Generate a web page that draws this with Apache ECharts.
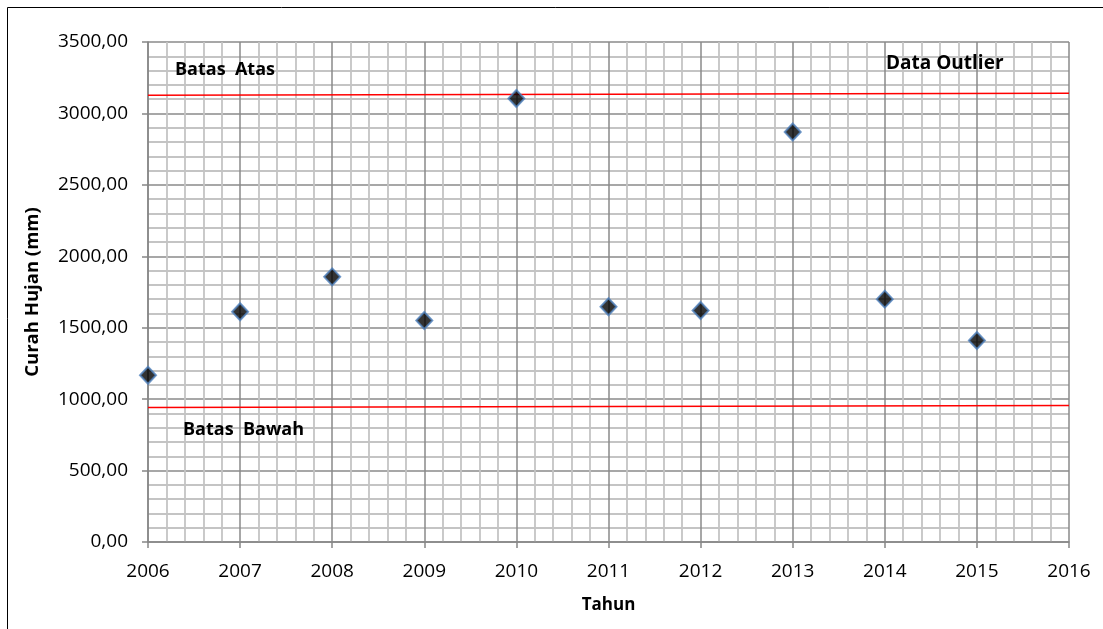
<!DOCTYPE html>
<html>
<head>
<meta charset="utf-8">
<script src="https://cdn.jsdelivr.net/npm/echarts@6/dist/echarts.min.js"></script>
<style>
  html, body { margin: 0; padding: 0; background: #fff; }
  #chart { width: 1103px; height: 629px; }
</style>
</head>
<body>
<div id="chart"></div>
<script>
// Annual rainfall per year with upper / lower outlier limits
const years = [2006, 2007, 2008, 2009, 2010, 2011, 2012, 2013, 2014, 2015];
const rainfall = [1167, 1612, 1856, 1551, 3105, 1647, 1621, 2870, 1700, 1410];
const limitYears = [2006, 2016];
const upperLimit = [3128, 3142];
const lowerLimit = [941, 955];

const FONT = '"Open Sans", "Liberation Sans", sans-serif';

const chart = echarts.init(document.getElementById('chart'), null, { renderer: 'canvas' });

const pairs = (xs, ys) => xs.map((x, i) => [x, ys[i]]);

const option = {
  backgroundColor: '#ffffff',
  animation: false,
  grid: { left: 148, top: 42, right: 34, bottom: 87, containLabel: false },
  xAxis: {
    type: 'value',
    min: 2006, max: 2016, interval: 1,
    name: 'Tahun',
    nameLocation: 'middle',
    nameGap: 55,
    nameTextStyle: { fontFamily: FONT, fontSize: 17, fontWeight: 'bold', color: '#000' },
    axisLine: { show: true, lineStyle: { color: '#868686', width: 1.5 } },
    axisTick: { show: true, length: 6, lineStyle: { color: '#868686', width: 1.5 } },
    axisLabel: { fontFamily: FONT, fontSize: 19, color: '#000', margin: 20, formatter: v => String(v) },
    splitLine: { show: true, lineStyle: { color: '#8a8a8a', width: 1.5 } },
    minorTick: { show: false, splitNumber: 5 },
    minorSplitLine: { show: true, lineStyle: { color: '#c4c4c4', width: 1.8 } }
  },
  yAxis: {
    type: 'value',
    min: 0, max: 3500, interval: 500,
    name: 'Curah Hujan (mm)',
    nameLocation: 'middle',
    nameGap: 106,
    nameRotate: 90,
    nameTextStyle: { fontFamily: FONT, fontSize: 18.5, fontWeight: 'bold', color: '#000' },
    axisLine: { show: true, lineStyle: { color: '#868686', width: 1.5 } },
    axisTick: { show: true, length: 6, lineStyle: { color: '#868686', width: 1.5 } },
    axisLabel: {
      fontFamily: FONT, fontSize: 19, color: '#000', margin: 20,
      formatter: v => v.toFixed(2).replace('.', ',')
    },
    splitLine: { show: true, lineStyle: { color: '#8a8a8a', width: 1.5 } },
    minorTick: { show: false, splitNumber: 5 },
    minorSplitLine: { show: true, lineStyle: { color: '#c4c4c4', width: 1.8 } }
  },
  series: [
    {
      name: 'Batas Atas',
      type: 'line',
      data: pairs(limitYears, upperLimit),
      symbol: 'none',
      lineStyle: { color: '#ff0000', width: 1.5 },
      z: 3
    },
    {
      name: 'Batas Bawah',
      type: 'line',
      data: pairs(limitYears, lowerLimit),
      symbol: 'none',
      lineStyle: { color: '#ff0000', width: 1.5 },
      z: 3
    },
    {
      name: 'Curah Hujan',
      type: 'scatter',
      data: pairs(years, rainfall),
      symbol: 'diamond',
      symbolSize: [16, 17],
      itemStyle: { color: '#000000', borderColor: '#4f81bd', borderWidth: 2 },
      z: 5
    }
  ],
  graphic: [
    {
      type: 'rect',
      shape: { x: 7.5, y: 7.5, width: 1200, height: 700 },
      style: { fill: 'none', stroke: '#000', lineWidth: 1 },
      silent: true, z: 100
    },
    {
      type: 'text', left: 175, top: 61, z: 100,
      style: { text: 'Batas  Atas', font: 'bold 18px ' + FONT, fill: '#000' }
    },
    {
      type: 'text', left: 183, top: 421, z: 100,
      style: { text: 'Batas  Bawah', font: 'bold 18px ' + FONT, fill: '#000' }
    },
    {
      type: 'text', left: 886, top: 54, z: 100,
      style: { text: 'Data Outlier', font: 'bold 19px ' + FONT, fill: '#000' }
    }
  ]
};

chart.setOption(option);
</script>
</body>
</html>
